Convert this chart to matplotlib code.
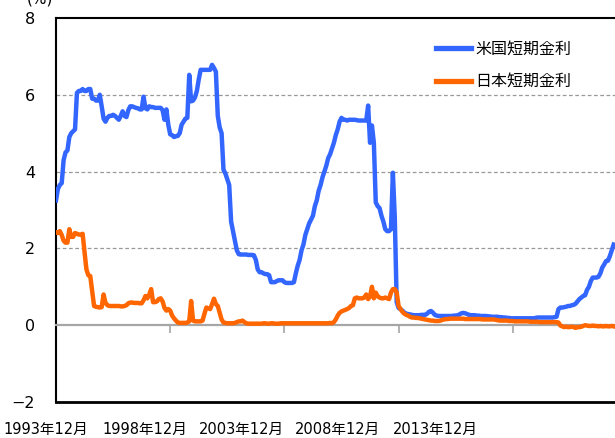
import numpy as np
import matplotlib.pyplot as plt

plt.rcParams['font.family'] = ['DejaVu Sans', 'Noto Sans CJK JP']

# monthly short-term rates (%), starting 1993-12
us_rate = [
    3.25,
    3.55, 3.65, 3.7, 4.3, 4.5, 4.55, 4.9, 5.0, 5.05, 5.1, 6.05, 6.1,          # 1994
    6.1, 6.15, 6.1, 6.1, 6.15, 6.15, 5.9, 5.9, 5.85, 5.85, 6.0, 5.7,          # 1995
    5.38, 5.3, 5.4, 5.45, 5.45, 5.48, 5.45, 5.4, 5.35, 5.45, 5.57, 5.45,      # 1996
    5.42, 5.6, 5.7, 5.7, 5.68, 5.66, 5.65, 5.62, 5.62, 5.95, 5.65, 5.62,      # 1997
    5.7, 5.68, 5.68, 5.66, 5.66, 5.66, 5.66, 5.6, 5.35, 5.62, 5.22, 4.97,     # 1998
    4.95, 4.9, 4.92, 4.93, 5.0, 5.22, 5.3, 5.38, 5.4, 6.52, 5.83, 5.85,       # 1999
    5.93, 6.1, 6.4, 6.65, 6.65, 6.65, 6.65, 6.65, 6.65, 6.78, 6.7, 6.6,       # 2000
    5.45, 5.15, 5.0, 4.05, 3.95, 3.8, 3.65, 2.7, 2.45, 2.2, 1.95, 1.85,       # 2001
    1.84, 1.84, 1.84, 1.84, 1.83, 1.83, 1.83, 1.82, 1.7, 1.45, 1.38, 1.38,    # 2002
    1.35, 1.33, 1.33, 1.30, 1.12, 1.12, 1.12, 1.15, 1.17, 1.17, 1.17, 1.12,   # 2003
    1.1, 1.1, 1.1, 1.1, 1.12, 1.35, 1.55, 1.7, 1.95, 2.1, 2.35, 2.5,          # 2004
    2.65, 2.75, 2.85, 3.1, 3.25, 3.5, 3.65, 3.85, 4.0, 4.15, 4.35, 4.45,      # 2005
    4.6, 4.75, 4.95, 5.1, 5.3, 5.4, 5.35, 5.35, 5.33, 5.35, 5.35, 5.35,       # 2006
    5.35, 5.34, 5.33, 5.33, 5.33, 5.33, 5.33, 5.72, 4.75, 5.2, 4.75, 3.2,     # 2007
    3.1, 3.05, 2.85, 2.7, 2.5, 2.45, 2.45, 2.5, 3.97, 2.8, 0.6, 0.45,         # 2008
    0.42, 0.38, 0.33, 0.3, 0.29, 0.28, 0.27, 0.26, 0.26, 0.26, 0.26, 0.27,    # 2009
    0.27, 0.27, 0.3, 0.35, 0.37, 0.33, 0.27, 0.25, 0.24, 0.24, 0.24, 0.24,    # 2010
    0.24, 0.24, 0.24, 0.24, 0.25, 0.25, 0.26, 0.28, 0.31, 0.32, 0.31, 0.29,   # 2011
    0.27, 0.26, 0.26, 0.26, 0.25, 0.25, 0.24, 0.24, 0.24, 0.24, 0.23, 0.23,   # 2012
    0.22, 0.22, 0.22, 0.22, 0.21, 0.21, 0.2, 0.2, 0.19, 0.19, 0.18, 0.18,     # 2013
    0.18, 0.18, 0.18, 0.18, 0.18, 0.18, 0.18, 0.18, 0.18, 0.18, 0.18, 0.19,   # 2014
    0.2, 0.2, 0.2, 0.2, 0.2, 0.2, 0.2, 0.2, 0.2, 0.21, 0.22, 0.42,            # 2015
    0.46, 0.46, 0.47, 0.48, 0.5, 0.5, 0.52, 0.53, 0.56, 0.62, 0.68, 0.72,     # 2016
    0.76, 0.78, 0.92, 1.0, 1.15, 1.24, 1.24, 1.24, 1.26, 1.35, 1.5, 1.58,     # 2017
    1.67, 1.68, 1.8, 1.95, 2.1,                                               # 2018
]

jp_rate = [
    2.42,
    2.4, 2.45, 2.35, 2.2, 2.15, 2.15, 2.5, 2.3, 2.3, 2.4, 2.38, 2.36,         # 1994
    2.36, 2.38, 1.9, 1.45, 1.3, 1.28, 0.9, 0.5, 0.48, 0.47, 0.46, 0.47,       # 1995
    0.8, 0.58, 0.52, 0.5, 0.5, 0.5, 0.5, 0.5, 0.5, 0.49, 0.49, 0.5,           # 1996
    0.52, 0.57, 0.59, 0.59, 0.58, 0.58, 0.58, 0.57, 0.57, 0.65, 0.76, 0.7,    # 1997
    0.8, 0.94, 0.6, 0.6, 0.62, 0.68, 0.7, 0.62, 0.45, 0.38, 0.42, 0.38,       # 1998
    0.25, 0.18, 0.12, 0.07, 0.06, 0.06, 0.06, 0.06, 0.07, 0.1, 0.63, 0.12,    # 1999
    0.1, 0.1, 0.1, 0.1, 0.12, 0.3, 0.46, 0.44, 0.42, 0.55, 0.69, 0.55,        # 2000
    0.5, 0.33, 0.15, 0.07, 0.06, 0.05, 0.05, 0.05, 0.05, 0.06, 0.08, 0.1,     # 2001
    0.1, 0.12, 0.08, 0.05, 0.04, 0.04, 0.04, 0.04, 0.04, 0.04, 0.04, 0.04,    # 2002
    0.05, 0.05, 0.04, 0.04, 0.05, 0.05, 0.04, 0.04, 0.04, 0.05, 0.05, 0.05,   # 2003
    0.05, 0.05, 0.05, 0.05, 0.05, 0.05, 0.05, 0.05, 0.05, 0.05, 0.05, 0.05,   # 2004
    0.05, 0.05, 0.05, 0.05, 0.05, 0.05, 0.05, 0.05, 0.05, 0.05, 0.05, 0.06,   # 2005
    0.05, 0.08, 0.15, 0.25, 0.32, 0.36, 0.38, 0.4, 0.42, 0.45, 0.5, 0.52,     # 2006
    0.7, 0.72, 0.7, 0.7, 0.7, 0.72, 0.8, 0.68, 0.75, 1.0, 0.7, 0.85,          # 2007
    0.75, 0.72, 0.7, 0.7, 0.72, 0.7, 0.68, 0.85, 0.94, 0.94, 0.85, 0.5,       # 2008
    0.42, 0.35, 0.3, 0.27, 0.25, 0.22, 0.2, 0.2, 0.19, 0.19, 0.18, 0.17,      # 2009
    0.16, 0.15, 0.14, 0.13, 0.12, 0.12, 0.11, 0.11, 0.11, 0.12, 0.14, 0.15,   # 2010
    0.16, 0.16, 0.17, 0.17, 0.17, 0.17, 0.17, 0.17, 0.17, 0.17, 0.16, 0.16,   # 2011
    0.16, 0.16, 0.16, 0.16, 0.16, 0.16, 0.16, 0.15, 0.15, 0.15, 0.15, 0.15,   # 2012
    0.15, 0.15, 0.14, 0.13, 0.12, 0.12, 0.12, 0.12, 0.12, 0.11, 0.11, 0.11,   # 2013
    0.1, 0.1, 0.1, 0.1, 0.1, 0.1, 0.1, 0.1, 0.09, 0.09, 0.09, 0.09,           # 2014
    0.09, 0.08, 0.08, 0.08, 0.08, 0.08, 0.08, 0.08, 0.08, 0.08, 0.08, 0.07,   # 2015
    -0.01, -0.03, -0.05, -0.04, -0.05, -0.05, -0.04, -0.05, -0.07, -0.05, -0.05, -0.04,  # 2016
    -0.02, 0.0, -0.01, -0.02, -0.02, -0.01, -0.02, -0.02, -0.03, -0.02, -0.03, -0.03,    # 2017
    -0.02, -0.03, -0.03, -0.02, -0.03,                                        # 2018
]

series_names = ['米国短期金利', '日本短期金利']
tick_months = [0, 60, 120, 180, 240]
tick_labels = ['1993年12月', '1998年12月', '2003年12月', '2008年12月', '2013年12月']

months = np.arange(len(us_rate))

fig = plt.figure(figsize=(6.15, 4.38), dpi=100)
ax = fig.add_axes([56 / 615, 1 - 402 / 438, 1 - 56 / 615, 384 / 438])

ax.plot(months, us_rate, color='#3366ff', lw=3.2, label=series_names[0], zorder=3)
ax.plot(months, jp_rate, color='#ff6600', lw=3.2, label=series_names[1], zorder=3)

ax.set_xlim(0, 293.7)
ax.set_ylim(-2, 8)
ax.set_yticks([-2, 0, 2, 4, 6, 8])
ax.tick_params(axis='y', length=0, pad=15, labelsize=11.5)

# dashed grid
for yv in [2, 4, 6]:
    ax.axhline(yv, color='#999999', lw=0.9, ls=(0, (3, 2)), zorder=1)

# category axis sits on zero, frame is black
ax.spines['bottom'].set_position(('data', 0))
ax.spines['bottom'].set_color('#a6a6a6')
ax.spines['bottom'].set_linewidth(1.6)
ax.spines['right'].set_visible(False)
ax.spines['left'].set_linewidth(1.5)
ax.spines['top'].set_linewidth(1.5)
ax.axhline(-2, color='black', lw=2, clip_on=False, zorder=4)

ax.set_xticks(tick_months)
ax.set_xticklabels([])
ax.tick_params(axis='x', direction='out', length=6, width=1.2, color='#a6a6a6')

label_x = [46, 144.5, 241, 338, 435]
for lx, txt in zip(label_x, tick_labels):
    fig.text(lx / 615, 1 - 429 / 438, txt, ha='center', va='center', fontsize=10.5)

fig.text(40 / 615, 1 + 1 / 438, '(%)', ha='center', va='center', fontsize=11)

leg = ax.legend(frameon=False, loc='upper left', bbox_to_anchor=(436 / 615, 1 - 41 / 438),
                bbox_transform=fig.transFigure, handlelength=2.2, handletextpad=0.25,
                labelspacing=0.95, borderpad=0, borderaxespad=0,
                prop={'family': ['Noto Sans CJK JP'], 'size': 11.5})
for h in leg.get_lines():
    h.set_linewidth(3.8)

plt.savefig('out.png', dpi=100)
